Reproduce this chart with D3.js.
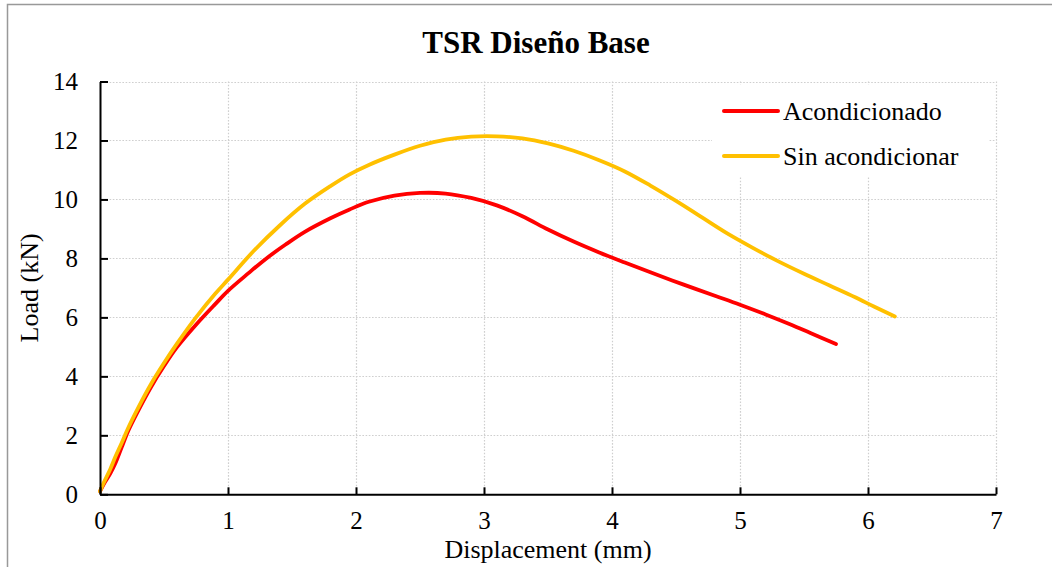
<!DOCTYPE html>
<html>
<head>
<meta charset="utf-8">
<script src="https://cdn.jsdelivr.net/npm/d3@7"></script>
<style>
  html, body { margin: 0; padding: 0; background: #fff; overflow: hidden; }
  svg { display: block; font-family: "Liberation Serif", "Times New Roman", serif; }
</style>
</head>
<body>
<svg id="chart" width="1052" height="567"></svg>
<script>
// Load–displacement curves, TSR test on the base mix design
const acondX = [0, 0.03, 0.08, 0.12, 0.17, 0.22, 0.3, 0.4, 0.5, 0.6, 0.75, 0.9, 1.0, 1.16, 1.3, 1.45, 1.6, 1.8, 1.95, 2.1, 2.3, 2.5, 2.7, 2.9, 3.1, 3.3, 3.5, 3.7, 3.9, 4.1, 4.3, 4.56, 4.82, 5.0, 5.2, 5.4, 5.55, 5.75];
const acondY = [0.1, 0.35, 0.7, 1.05, 1.6, 2.15, 2.85, 3.65, 4.35, 4.98, 5.75, 6.45, 6.9, 7.5, 8.0, 8.47, 8.9, 9.36, 9.66, 9.92, 10.13, 10.22, 10.2, 10.05, 9.8, 9.43, 8.98, 8.57, 8.2, 7.86, 7.53, 7.11, 6.71, 6.43, 6.1, 5.75, 5.47, 5.1];

const sinX = [0, 0.03, 0.08, 0.12, 0.17, 0.22, 0.3, 0.4, 0.5, 0.6, 0.75, 0.9, 1.0, 1.2, 1.4, 1.6, 1.8, 1.95, 2.1, 2.3, 2.5, 2.7, 2.9, 3.1, 3.3, 3.5, 3.7, 3.9, 4.1, 4.3, 4.5, 4.7, 4.9, 5.1, 5.3, 5.5, 5.7, 5.9, 6.05, 6.21];
const sinY = [0.1, 0.4, 0.85, 1.27, 1.75, 2.25, 2.95, 3.75, 4.45, 5.1, 6.0, 6.8, 7.28, 8.25, 9.1, 9.85, 10.45, 10.85, 11.17, 11.52, 11.82, 12.03, 12.13, 12.14, 12.07, 11.9, 11.65, 11.33, 10.95, 10.47, 9.95, 9.4, 8.85, 8.36, 7.9, 7.48, 7.08, 6.68, 6.36, 6.03];

const seriesNames = ["Acondicionado", "Sin acondicionar"];
const seriesColors = ["#FF0000", "#FFC000"];
const xTicks = [0, 1, 2, 3, 4, 5, 6, 7];
const yTicks = [0, 2, 4, 6, 8, 10, 12, 14];

const title = "TSR Diseño Base";
const xTitle = "Displacement (mm)";
const yTitle = "Load (kN)";

const svg = d3.select("#chart");

// chart frame
svg.append("rect")
  .attr("x", 7.5).attr("y", 4.5)
  .attr("width", 1100).attr("height", 600)
  .attr("fill", "#fff")
  .attr("stroke", "#999").attr("stroke-width", 1.5);

const plot = { left: 100, right: 996, top: 81.5, bottom: 494.3 };

const x = d3.scaleLinear().domain([0, 7]).range([plot.left, plot.right]);
const y = d3.scaleLinear().domain([0, 14]).range([plot.bottom, plot.top]);

// dotted gridlines
const grid = svg.append("g").attr("stroke", "#cfcfcf").attr("stroke-width", 1.2)
  .attr("stroke-dasharray", "1.6,1.6");
grid.selectAll("line.v").data(xTicks.filter(d => d > 0)).join("line")
  .attr("class", "v")
  .attr("x1", d => Math.round(x(d)) + 0.5).attr("x2", d => Math.round(x(d)) + 0.5)
  .attr("y1", plot.top).attr("y2", plot.bottom);
grid.selectAll("line.h").data(yTicks.filter(d => d > 0)).join("line")
  .attr("class", "h")
  .attr("x1", plot.left).attr("x2", plot.right)
  .attr("y1", d => Math.round(y(d)) + 0.5).attr("y2", d => Math.round(y(d)) + 0.5);

// curves
const line = d3.line().x(d => x(d[0])).y(d => y(d[1])).curve(d3.curveCatmullRom.alpha(0.5));
const series = [
  { name: seriesNames[0], color: seriesColors[0], pts: d3.zip(acondX, acondY) },
  { name: seriesNames[1], color: seriesColors[1], pts: d3.zip(sinX, sinY) }
];
svg.append("g").selectAll("path").data(series).join("path")
  .attr("d", d => line(d.pts))
  .attr("fill", "none")
  .attr("stroke", d => d.color)
  .attr("stroke-width", 3.8)
  .attr("stroke-linecap", "round")
  .attr("stroke-linejoin", "round");

// axes with inward ticks
const xAxis = svg.append("g").attr("transform", `translate(0,${plot.bottom})`)
  .call(d3.axisBottom(x).tickValues(xTicks).tickSize(-7).tickSizeOuter(0).tickPadding(17).tickFormat(d3.format("d")));
const yAxis = svg.append("g").attr("transform", `translate(${plot.left},0)`)
  .call(d3.axisLeft(y).tickValues(yTicks).tickSize(-8).tickSizeOuter(0).tickPadding(22).tickFormat(d3.format("d")));
[xAxis, yAxis].forEach(g => {
  g.select(".domain").attr("stroke", "#000").attr("stroke-width", 2);
  g.selectAll(".tick line").attr("stroke", "#000").attr("stroke-width", 2);
  g.selectAll(".tick text").attr("fill", "#000")
    .style("font-family", "Liberation Serif, Times New Roman, serif")
    .style("font-size", "25px");
});

// legend
const legend = svg.append("g");
legend.append("rect")
  .attr("x", 712).attr("y", 85).attr("width", 276).attr("height", 92)
  .attr("fill", "#fff");
const items = legend.selectAll("g.item").data(series).join("g")
  .attr("class", "item")
  .attr("transform", (d, i) => `translate(724,${111 + i * 45})`);
items.append("line")
  .attr("x1", 0).attr("x2", 54).attr("y1", 0).attr("y2", 0)
  .attr("stroke", d => d.color).attr("stroke-width", 4)
  .attr("stroke-linecap", "round");
items.append("text")
  .attr("x", 59).attr("y", 0).attr("dy", "0.35em")
  .attr("font-size", 26)
  .attr("fill", "#000")
  .text(d => d.name);

// titles
svg.append("text")
  .attr("x", 536).attr("y", 53)
  .attr("text-anchor", "middle")
  .attr("font-size", 31).attr("font-weight", "bold")
  .text(title);

svg.append("text")
  .attr("x", (plot.left + plot.right) / 2).attr("y", 558)
  .attr("text-anchor", "middle")
  .attr("font-size", 26)
  .text(xTitle);

svg.append("text")
  .attr("transform", `translate(38,${(plot.top + plot.bottom) / 2}) rotate(-90)`)
  .attr("text-anchor", "middle")
  .attr("font-size", 26)
  .text(yTitle);
</script>
</body>
</html>
